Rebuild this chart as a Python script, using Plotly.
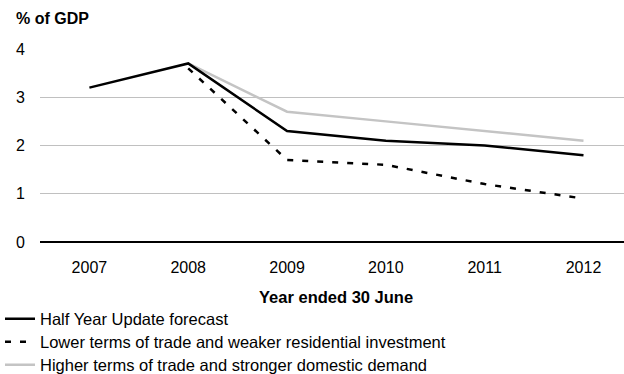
import plotly.graph_objects as go

years = ["2007", "2008", "2009", "2010", "2011", "2012"]
half_year = [3.2, 3.7, 2.3, 2.1, 2.0, 1.8]
lower = [None, 3.6, 1.7, 1.6, 1.2, 0.9]
higher = [None, 3.7, 2.7, 2.5, 2.3, 2.1]

FONT = "Liberation Sans, Arial, sans-serif"
H = 374

fig = go.Figure()
fig.add_trace(go.Scatter(x=years, y=higher, mode="lines", name="Higher terms of trade and stronger domestic demand",
                         line=dict(color="#c4c4c4", width=2.5), legend="legend3"))
fig.add_trace(go.Scatter(x=years, y=lower, mode="lines", name="Lower terms of trade and weaker residential investment",
                         line=dict(color="black", width=2.5, dash="6px,9px"), legend="legend2"))
fig.add_trace(go.Scatter(x=years, y=half_year, mode="lines", name="Half Year Update forecast",
                         line=dict(color="black", width=2.5), legend="legend"))

def leg(row_y):
    return dict(orientation="v", xref="container", x=0, xanchor="left",
                yref="container", y=1 - row_y / H, yanchor="middle",
                font=dict(size=16.5), bgcolor="rgba(0,0,0,0)", itemwidth=30)

fig.update_layout(
    width=624, height=H,
    margin=dict(l=40, r=0, t=49, b=132, autoexpand=False),
    paper_bgcolor="white", plot_bgcolor="white",
    font=dict(family=FONT, size=16, color="black"),
    showlegend=True,
    legend=leg(319), legend2=leg(342), legend3=leg(365),
    xaxis=dict(type="category", range=[-0.5, 5.41], showgrid=False, showline=False, zeroline=False,
               ticks="", ticklabelstandoff=14, tickfont=dict(size=16), tickangle=0),
    yaxis=dict(range=[0, 4], tickvals=[0, 1, 2, 3, 4], showgrid=True, gridcolor="#c0c0c0", gridwidth=1,
               zeroline=True, zerolinecolor="black", zerolinewidth=2, showline=False, ticks="",
               ticklabelstandoff=14, tickfont=dict(size=16)),
    annotations=[
        dict(text="<b>% of GDP</b>", xref="paper", yref="paper", x=-26/584, y=(242-19)/193,
             xanchor="left", yanchor="middle", showarrow=False, font=dict(size=16)),
        dict(text="<b>Year ended 30 June</b>", xref="paper", yref="paper", x=(336-40)/584, y=(242-297)/193,
             xanchor="center", yanchor="middle", showarrow=False, font=dict(size=16.5)),
    ],
)

fig.write_html("out.html")
